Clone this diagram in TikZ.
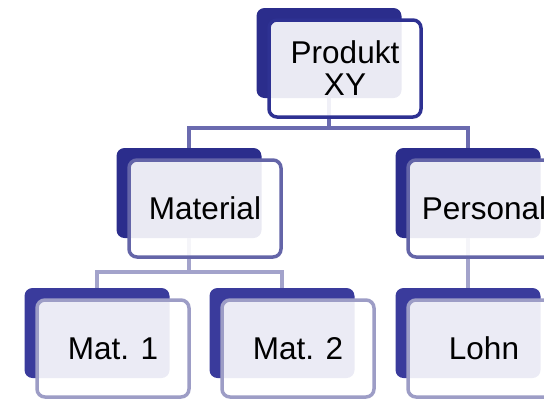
\documentclass[tikz,border=0pt]{standalone}
\usepackage{fontspec}
\setmainfont{Liberation Sans}
\usepackage{xcolor}

\definecolor{navy}{RGB}{43,45,140}
\definecolor{navylow}{RGB}{58,59,156}
\definecolor{rimtop}{RGB}{46,49,146}
\definecolor{rimmid}{RGB}{100,101,168}
\definecolor{rimlow}{RGB}{157,157,198}
\definecolor{linkmid}{RGB}{107,107,175}
\definecolor{linklow}{RGB}{163,163,203}

\begin{document}
\begin{tikzpicture}[x=1pt, y=1pt,
    back/.style={rectangle, rounded corners=8pt, fill=#1, minimum width=145pt,
    minimum height=90pt, inner sep=0pt},
    box/.style={rectangle, rounded corners=8pt, draw=#1, line width=3.5pt,
    fill=white, fill opacity=0.9, text opacity=1, minimum width=152pt,
    minimum height=97pt, inner sep=0pt, align=center,
    font=\fontsize{31.5}{32}\selectfont},
    link/.style={draw=#1, line width=4pt},
]
\useasboundingbox (0,0) rectangle (544,-400);
\clip (0,0) rectangle (544,-400);

% dark back plates
\node[back=navy] (pb) at (329,-53) {};
\node[back=navy] (mb) at (189,-193) {};
\node[back=navy] (qb) at (468,-193) {};
\node[back=navylow] (m1b) at (97,-333) {};
\node[back=navylow] (m2b) at (282,-333) {};
\node[back=navylow] (lb) at (468,-333) {};

% connectors
\draw[link=linkmid] (pb.south) -- ++(0,-30) -| (mb.north);
\draw[link=linkmid] (pb.south) -- ++(0,-30) -| (qb.north);
\draw[link=linklow] (mb.south) -- ++(0,-34) -| (m1b.north);
\draw[link=linklow] (mb.south) -- ++(0,-34) -| (m2b.north);
\draw[link=linklow] (qb.south) -- (lb.north);

% front boxes with text
\node[box=rimtop] (produkt) at ([shift={(16,-15.5)}]pb) {Produkt\\XY};
\node[box=rimmid] (material) at ([shift={(16,-15.5)}]mb) {Material};
\node[box=rimmid] (personal) at ([shift={(16,-15.5)}]qb) {Personal};
\node[box=rimlow] (mat1) at ([shift={(16,-15.5)}]m1b) {Mat. 1};
\node[box=rimlow] (mat2) at ([shift={(16,-15.5)}]m2b) {Mat. 2};
\node[box=rimlow] (lohn) at ([shift={(16,-15.5)}]lb) {Lohn};

\end{tikzpicture}
\end{document}
